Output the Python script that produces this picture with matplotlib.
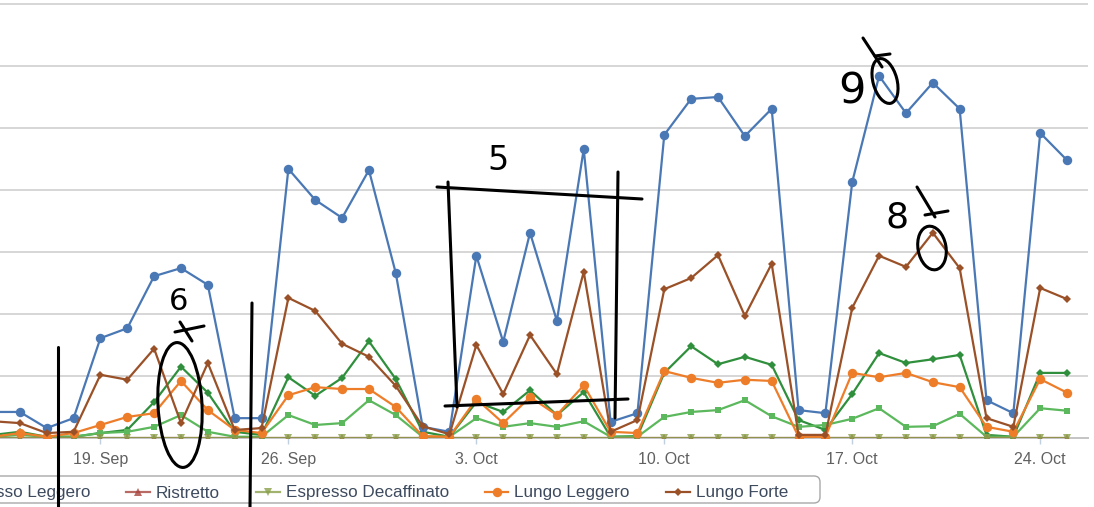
import matplotlib
matplotlib.use('Agg')
import matplotlib.pyplot as plt
import matplotlib.dates as mdates
from matplotlib.patches import Ellipse, FancyBboxPatch
import pandas as pd

plt.rcParams['font.family'] = ['Liberation Sans', 'DejaVu Sans']

# one point per day, 15 Sep - 25 Oct
days = pd.date_range('2011-09-15', '2011-10-25', freq='D')

espresso_leggero = [4.2, 4.2, 1.6, 3.2, 16.1, 17.7, 26.1, 27.4, 24.7, 3.2, 3.2,
                    43.4, 38.4, 35.5, 43.2, 26.6, 1.8, 1.0, 29.4, 15.5, 33.1,
                    18.9, 46.6, 2.6, 4.0, 48.9, 54.7, 55.0, 48.7, 53.1, 4.5,
                    4.0, 41.3, 58.4, 52.4, 57.3, 53.1, 6.1, 4.0, 49.2, 44.8]
lungo_forte = [2.7, 2.4, 0.8, 1.0, 10.2, 9.4, 14.4, 2.4, 12.1, 1.3, 1.6,
               22.6, 20.5, 15.2, 13.1, 8.4, 1.9, 0.6, 15.0, 7.1, 16.6,
               10.3, 26.8, 1.0, 2.9, 24.0, 25.8, 29.5, 19.7, 28.1, 0.5,
               0.5, 21.0, 29.4, 27.6, 33.1, 27.4, 3.2, 1.8, 24.2, 22.4]
lungo_leggero = [0.2, 0.8, 0.2, 0.8, 2.1, 3.4, 4.0, 9.2, 4.5, 1.3, 0.8,
                 6.9, 8.2, 7.9, 7.9, 5.0, 0.3, 0.2, 6.3, 2.4, 6.6,
                 3.7, 8.5, 1.0, 0.8, 10.8, 9.7, 8.9, 9.4, 9.2, 0.2,
                 0.2, 10.5, 9.8, 10.5, 9.0, 8.2, 1.8, 1.0, 9.5, 7.3]
green_dark = [0.5, 1.0, 0.2, 0.2, 0.8, 1.3, 5.8, 11.5, 7.3, 1.0, 0.5,
              9.8, 6.8, 9.7, 15.6, 9.5, 1.0, 0.2, 5.8, 4.2, 7.7,
              3.7, 7.4, 0.2, 0.3, 10.5, 14.8, 11.9, 13.1, 11.8, 2.9,
              1.3, 7.1, 13.7, 12.1, 12.7, 13.4, 0.5, 0.2, 10.5, 10.5]
green_light = [0.2, 0.5, 0.2, 0.2, 0.8, 1.0, 1.8, 3.7, 1.0, 0.2, 0.2,
               3.7, 2.1, 2.4, 6.1, 3.7, 0.2, 0.2, 3.2, 1.8, 2.4,
               1.8, 2.7, 0.2, 0.2, 3.4, 4.2, 4.5, 6.1, 3.5, 1.8,
               2.1, 3.1, 4.8, 1.8, 1.9, 3.9, 0.2, 0.2, 4.8, 4.4]
ristretto = [0, 0, 0, 0, 0, 0, 0, 0, 0, 0, 0, 0, 0, 0, 0, 0, 0, 0, 0, 0, 0,
             0, 0, 0, 0, 0, 0, 0, 0, 0, 0, 0, 0, 0, 0, 0, 0, 0, 0, 0, 0]
espresso_decaf = [0, 0, 0, 0, 0, 0, 0, 0, 0, 0, 0, 0, 0, 0, 0, 0, 0, 0, 0, 0, 0,
                  0, 0, 0, 0, 0, 0, 0, 0, 0, 0, 0, 0, 0, 0, 0, 0, 0, 0, 0, 0]

# hand drawn marks on the screenshot, in pixel coords (x right, y down)
strokes = [
    [(58, 347), (58, 507)],
    [(252, 303), (250, 507)],
    [(437, 187), (642, 199)],
    [(448, 182), (457, 407)],
    [(618, 172), (615, 418)],
    [(445, 406), (628, 399)],
    [(180, 322), (192, 341)],
    [(175, 332), (204, 326)],
    [(863, 38), (882, 67)],
    [(875, 56), (890, 54)],
    [(917, 187), (935, 217)],
    [(925, 215), (948, 211)],
]
loops = [((180, 405), 44, 125, -3), ((885, 81), 24, 46, -15), ((932, 248), 28, 44, -10)]
numbers = [('5', 498, 160, 24), ('6', 179, 301, 22), ('9', 852, 91, 31), ('8', 897, 218, 26)]

W, H = 1094, 507
fig = plt.figure(figsize=(W / 100, H / 100), dpi=100)
ax = fig.add_axes([0, (H - 438) / H, 1088 / W, 438 / H])

ax.plot(days, green_dark, color='#2f8f3c', marker='D', ms=4.5, lw=1.6, mew=0, zorder=3)
ax.plot(days, green_light, color='#5cb85c', marker='s', ms=4.5, lw=1.6, mew=0, zorder=3)
l_el, = ax.plot(days, espresso_leggero, color='#4a78b5', marker='o', ms=6.8, lw=1.6, mew=0, zorder=3)
l_ri, = ax.plot(days, ristretto, color='#a8453f', marker='^', ms=6, lw=1.6, mew=0, alpha=0.8, zorder=3)
l_de, = ax.plot(days, espresso_decaf, color='#8aa04a', marker='v', ms=6, lw=1.6, mew=0, alpha=0.8, zorder=3)
l_ll, = ax.plot(days, lungo_leggero, color='#ee7d2a', marker='o', ms=6.8, lw=1.6, mew=0, zorder=3)
l_lf, = ax.plot(days, lungo_forte, color='#9a5128', marker='D', ms=4.5, lw=1.6, mew=0, zorder=3)

ax.set_xlim(days[0] + pd.Timedelta(days=0.26), days[0] + pd.Timedelta(days=40.78))
ax.set_ylim(0, 438 / 6.2)
ax.set_yticks([10, 20, 30, 40, 50, 60, 70])
ax.yaxis.grid(True, color='#d6d6d6', lw=1.4)
ax.tick_params(axis='y', length=0, labelleft=False)
ax.xaxis.set_major_locator(mdates.WeekdayLocator(byweekday=mdates.MO))
ax.xaxis.set_major_formatter(mdates.DateFormatter('%-d. %b'))
ax.tick_params(axis='x', length=4, width=1, color='#c0d0e0', labelcolor='#606060',
               labelsize=11.5, pad=6)
for s in ['left', 'right', 'top']:
    ax.spines[s].set_visible(False)
ax.spines['bottom'].set_color('#c4c4c4')
ax.spines['bottom'].set_linewidth(1.4)

fig.legend([l_el, l_ri, l_de, l_ll, l_lf],
           ['Espresso Leggero', 'Ristretto', 'Espresso Decaffinato', 'Lungo Leggero', 'Lungo Forte'],
           loc='center right', bbox_to_anchor=(788 / W, 1 - 493 / H), ncol=5, frameon=False,
           fontsize=12.3, handlelength=1.4, handletextpad=0.35, columnspacing=2.1,
           borderpad=0, borderaxespad=0, numpoints=1, labelcolor='#3d4a5e')

# overlay for legend frame and the pen marks
ov = fig.add_axes([0, 0, 1, 1], zorder=10)
ov.set_xlim(0, W)
ov.set_ylim(H, 0)
ov.axis('off')
ov.add_patch(FancyBboxPatch((-40, 476), 860, 27, boxstyle='round,pad=0,rounding_size=6',
                            fc='none', ec='#a8a8a8', lw=1))
for st in strokes:
    ov.plot([p[0] for p in st], [p[1] for p in st], color='black', lw=2.2, solid_capstyle='round')
for c, w, h, a in loops:
    ov.add_patch(Ellipse(c, w, h, angle=a, fill=False, ec='black', lw=2.2))
for t, x, y, s in numbers:
    ov.text(x, y, t, fontsize=s, ha='center', va='center', color='black', family='DejaVu Sans')

fig.savefig('out.png', dpi=100)
